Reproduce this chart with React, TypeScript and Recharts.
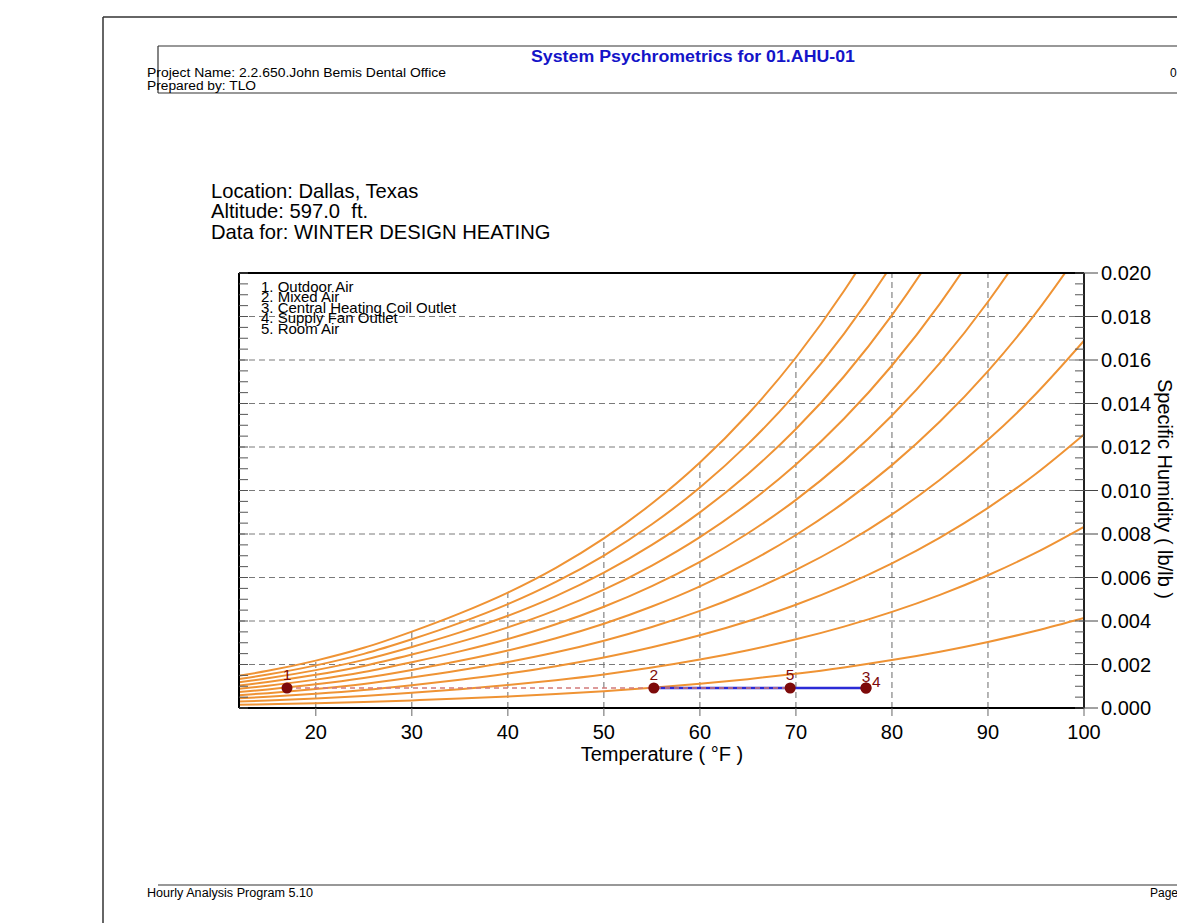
import React from "react";
import {
	ComposedChart,
	Line,
	Scatter,
	XAxis,
	YAxis,
	CartesianGrid,
	ReferenceLine,
} from "recharts";

// dry bulb temperatures (°F) for the RH curves
const temps = [12, 15, 20, 25, 30, 35, 40, 45, 50, 55, 60, 65, 70, 75, 80, 85, 90, 95, 100];

// specific humidity (lb/lb) along each relative humidity curve
const rh10 = [0.000148, 0.000171, 0.000217, 0.000276, 0.00035, 0.000432, 0.000527, 0.000639, 0.000771, 0.000927, 0.00111, 0.001325, 0.001575, 0.001865, 0.002202, 0.00259, 0.003037, 0.00355, 0.004137];
const rh20 = [0.000295, 0.000341, 0.000435, 0.000552, 0.0007, 0.000865, 0.001054, 0.001279, 0.001544, 0.001857, 0.002225, 0.002656, 0.003158, 0.003742, 0.004419, 0.005202, 0.006104, 0.007141, 0.00833];
const rh30 = [0.000443, 0.000512, 0.000652, 0.000828, 0.00105, 0.001299, 0.001583, 0.00192, 0.002319, 0.00279, 0.003343, 0.003992, 0.004748, 0.00563, 0.006652, 0.007836, 0.009201, 0.010773, 0.012579];
const rh40 = [0.000591, 0.000683, 0.00087, 0.001104, 0.001401, 0.001733, 0.002113, 0.002562, 0.003096, 0.003726, 0.004466, 0.005334, 0.006347, 0.007529, 0.008902, 0.010491, 0.012328, 0.014448, 0.016886];
const rh50 = [0.000738, 0.000854, 0.001087, 0.001381, 0.001752, 0.002168, 0.002643, 0.003206, 0.003875, 0.004665, 0.005592, 0.006682, 0.007954, 0.00944, 0.011167, 0.01317, 0.015487, 0.018165, 0.021252];
const rh60 = [0.000886, 0.001025, 0.001305, 0.001657, 0.002104, 0.002603, 0.003174, 0.003851, 0.004656, 0.005606, 0.006723, 0.008035, 0.00957, 0.011362, 0.013449, 0.015871, 0.018678, 0.021926, 0.025678];
const rh70 = [0.001034, 0.001196, 0.001524, 0.001934, 0.002456, 0.003039, 0.003706, 0.004498, 0.005439, 0.00655, 0.007857, 0.009395, 0.011193, 0.013296, 0.015747, 0.018595, 0.0219, 0.025732, 0.030165];
const rh80 = [0.001182, 0.001367, 0.001742, 0.002212, 0.002808, 0.003476, 0.004239, 0.005146, 0.006224, 0.007497, 0.008996, 0.01076, 0.012825, 0.015242, 0.018062, 0.021343, 0.025156, 0.029583, 0.034714];
const rh90 = [0.00133, 0.001539, 0.00196, 0.002489, 0.003161, 0.003913, 0.004773, 0.005795, 0.00701, 0.008447, 0.010139, 0.012131, 0.014466, 0.0172, 0.020394, 0.024114, 0.028444, 0.033479, 0.039328];
const rh100 = [0.001478, 0.00171, 0.002179, 0.002767, 0.003514, 0.004351, 0.005308, 0.006445, 0.007799, 0.009399, 0.011286, 0.013508, 0.016115, 0.01917, 0.022742, 0.026909, 0.031766, 0.037423, 0.044007];

const curves = [rh10, rh20, rh30, rh40, rh50, rh60, rh70, rh80, rh90, rh100];
const curveKeys = ["rh10", "rh20", "rh30", "rh40", "rh50", "rh60", "rh70", "rh80", "rh90", "rh100"];

// vertical grid lines stop at the saturation curve
const gridTemps = [20, 30, 40, 50, 60, 70, 80, 90];
const gridTops = [0.00218, 0.00351, 0.00531, 0.0078, 0.01129, 0.01611, 0.02, 0.02];

// state points
const stateLabels = ["1", "2", "3", "4", "5"];
const stateTemps = [17.0, 55.2, 77.3, 77.3, 69.4];
const stateW = [0.00092, 0.00092, 0.00092, 0.00092, 0.00092];

const legendItems = [
	"1. Outdoor Air",
	"2. Mixed Air",
	"3. Central Heating Coil Outlet",
	"4. Supply Fan Outlet",
	"5. Room Air",
];

const xTicks = [20, 30, 40, 50, 60, 70, 80, 90, 100];
const yTicks = [0, 0.002, 0.004, 0.006, 0.008, 0.01, 0.012, 0.014, 0.016, 0.018, 0.02];
const yMinorTicks = Array.from({ length: 41 }, (_, i) => i * 0.0005);

const rhData = temps.map((t, i) => {
	const row: any = { t };
	curves.forEach((c, k) => (row[curveKeys[k]] = c[i]));
	return row;
});

const states = stateLabels.map((label, i) => ({ label, t: stateTemps[i], w: stateW[i] }));
const mixLine = [states[0], states[4]];
const coilLine = [states[1], states[2]];

const FONT = "'Liberation Sans', Arial, Helvetica, sans-serif";
const NARROW = "'Liberation Sans Narrow', 'Arial Narrow', 'Liberation Sans', sans-serif";
const MAROON = "#7d0a0a";

const StatePoint = (props: any) => {
	const { cx, cy, payload } = props;
	const lbl = payload.label;
	let tx = cx;
	let ty = cy - 8;
	let anchor = "middle";
	if (lbl === "3") ty = cy - 6;
	if (lbl === "4") {
		tx = cx + 6;
		ty = cy - 1;
		anchor = "start";
	}
	return (
		<g>
			<circle cx={cx} cy={cy} r={5.5} fill={MAROON} />
			<text x={tx} y={ty} textAnchor={anchor} fontSize={15.5} fill={MAROON} fontFamily={FONT}>
				{lbl}
			</text>
		</g>
	);
};

const EmptyTick = () => <g />;

const Overlay = () => (
	<svg
		width={1177}
		height={923}
		style={{ position: "absolute", left: 0, top: 0, pointerEvents: "none" }}>
		{/* page frame */}
		<line x1={103} y1={17} x2={1177} y2={17} stroke='#333' strokeWidth={1.5} />
		<line x1={103} y1={17} x2={103} y2={923} stroke='#333' strokeWidth={1.5} />
		{/* header box */}
		<line x1={158} y1={46} x2={1177} y2={46} stroke='#333' strokeWidth={1.2} />
		<line x1={158} y1={46} x2={158} y2={93} stroke='#333' strokeWidth={1.2} />
		<line x1={158} y1={93} x2={1177} y2={93} stroke='#333' strokeWidth={1.2} />
		<text
			x={693}
			y={62}
			textAnchor='middle'
			fontSize={16}
			fontWeight='bold'
			fill='#1414c8'
			fontFamily={NARROW}
			textLength={324}
			lengthAdjust='spacingAndGlyphs'>
			System Psychrometrics for 01.AHU-01
		</text>
		<text x={147} y={77} fontSize={12} fontFamily={NARROW} textLength={299} lengthAdjust='spacingAndGlyphs'>
			Project Name: 2.2.650.John Bemis Dental Office
		</text>
		<text x={147} y={90} fontSize={12} fontFamily={NARROW} textLength={109} lengthAdjust='spacingAndGlyphs'>
			Prepared by: TLO
		</text>
		<text x={1170} y={77} fontSize={12} fontFamily={NARROW}>
			0
		</text>
		{/* footer */}
		<line x1={158} y1={885} x2={1177} y2={885} stroke='#333' strokeWidth={1.2} />
		<text x={147} y={897} fontSize={12} fontFamily={NARROW} textLength={166} lengthAdjust='spacingAndGlyphs'>
			Hourly Analysis Program 5.10
		</text>
		<text x={1150} y={897} fontSize={12} fontFamily={NARROW}>
			Page
		</text>
		{/* location block */}
		<text x={211} y={198} fontSize={20.2} fontFamily={FONT}>
			Location: Dallas, Texas
		</text>
		<text x={211} y={218} fontSize={20.2} fontFamily={FONT} style={{ whiteSpace: "pre" }}>
			Altitude: 597.0  ft.
		</text>
		<text x={211} y={238.5} fontSize={20.2} fontFamily={FONT}>
			Data for: WINTER DESIGN HEATING
		</text>
		{/* state point legend */}
		{legendItems.map((s, i) => (
			<text key={s} x={261} y={292 + i * 10.4} fontSize={15} fontFamily={FONT}>
				{s}
			</text>
		))}
		{/* axis titles */}
		<text x={662} y={761} textAnchor='middle' fontSize={20} fontFamily={FONT}>
			Temperature ( °F )
		</text>
		<text
			x={0}
			y={0}
			transform='translate(1158 489) rotate(90)'
			textAnchor='middle'
			fontSize={20}
			fontFamily={FONT}>
			Specific Humidity ( lb/lb )
		</text>
	</svg>
);

export default function App() {
	return (
		<div style={{ position: "absolute", left: 0, top: 0, width: 1177, height: 923, background: "#fff" }}>
			<div style={{ position: "absolute", left: 0, top: 0 }}>
				<ComposedChart
					width={1177}
					height={923}
					data={rhData}
					margin={{ top: 253, right: 13, bottom: 165, left: 239 }}
					style={{ fontFamily: FONT }}>
					<CartesianGrid
						vertical={false}
						stroke='#7a7a7a'
						strokeDasharray='6 4'
					/>
					<XAxis
						dataKey='t'
						type='number'
						domain={[12, 100]}
						allowDataOverflow
						ticks={xTicks}
						height={50}
						tickSize={8}
						tickMargin={9}
						tick={{ fontSize: 20, fill: "#000" }}
						tickLine={{ stroke: "#666" }}
						axisLine={{ stroke: "#000", strokeWidth: 2 }}
					/>
					<XAxis
						xAxisId='top'
						orientation='top'
						dataKey='t'
						type='number'
						domain={[12, 100]}
						allowDataOverflow
						height={20}
						tick={false}
						tickLine={false}
						axisLine={{ stroke: "#000", strokeWidth: 2 }}
					/>
					<YAxis
						orientation='right'
						type='number'
						domain={[0, 0.02]}
						allowDataOverflow
						ticks={yTicks}
						width={80}
						tickSize={14}
						tickMargin={3}
						tickFormatter={(v: number) => v.toFixed(3)}
						tick={{ fontSize: 20, fill: "#000" }}
						tickLine={{ stroke: "#444" }}
						axisLine={{ stroke: "#222", strokeWidth: 2 }}
					/>
					<YAxis
						yAxisId='rmin'
						orientation='right'
						mirror
						type='number'
						domain={[0, 0.02]}
						allowDataOverflow
						ticks={yMinorTicks}
						interval={0}
						width={40}
						tickSize={9}
						tick={<EmptyTick />}
						tickLine={{ stroke: "#555" }}
						axisLine={false}
					/>
					<YAxis
						yAxisId='lmin'
						orientation='left'
						mirror
						type='number'
						domain={[0, 0.02]}
						allowDataOverflow
						ticks={yMinorTicks}
						interval={0}
						width={40}
						tickSize={9}
						tick={<EmptyTick />}
						tickLine={{ stroke: "#555" }}
						axisLine={{ stroke: "#000", strokeWidth: 2 }}
					/>
					{gridTemps.map((t, i) => (
						<ReferenceLine
							key={t}
							segment={[
								{ x: t, y: 0 },
								{ x: t, y: gridTops[i] },
							]}
							stroke='#6a6a6a'
							strokeDasharray='6 4'
						/>
					))}
					{curveKeys.map((k) => (
						<Line
							key={k}
							dataKey={k}
							type='monotone'
							stroke='#ef9334'
							strokeWidth={2}
							dot={false}
							activeDot={false}
							isAnimationActive={false}
						/>
					))}
					<Line
						data={coilLine}
						dataKey='w'
						type='linear'
						stroke='#2b2bd6'
						strokeWidth={2.5}
						dot={false}
						activeDot={false}
						isAnimationActive={false}
					/>
					<Line
						data={mixLine}
						dataKey='w'
						type='linear'
						stroke='#d27a7a'
						strokeWidth={1.5}
						strokeDasharray='5 4'
						dot={false}
						activeDot={false}
						isAnimationActive={false}
					/>
					<Scatter
						data={states}
						dataKey='w'
						shape={<StatePoint />}
						isAnimationActive={false}
					/>
				</ComposedChart>
			</div>
			<Overlay />
		</div>
	);
}
